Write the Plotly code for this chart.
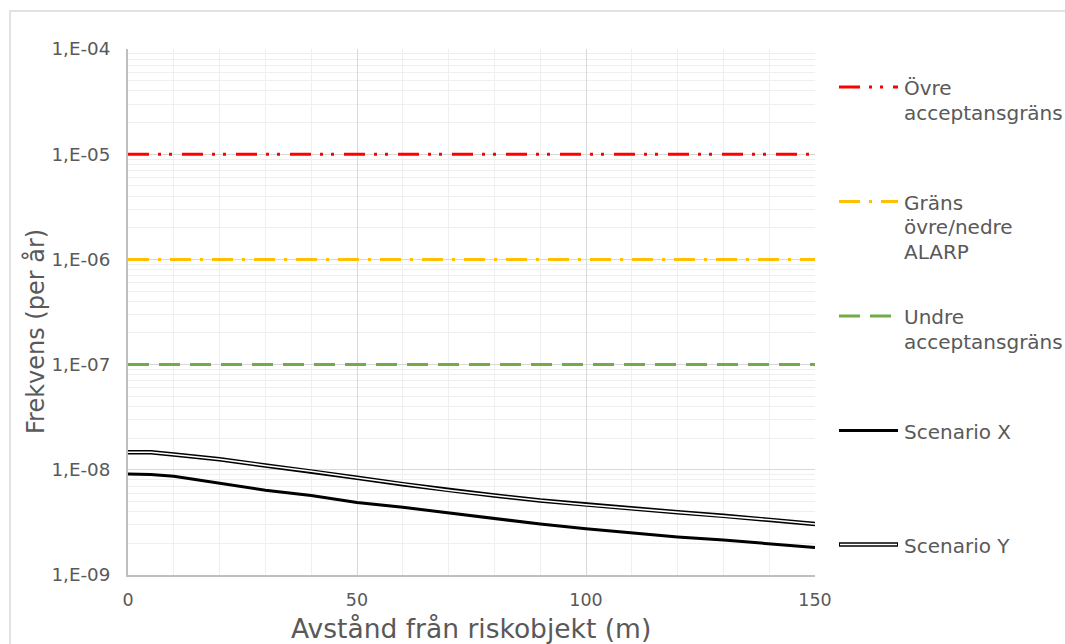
import plotly.graph_objects as go

# ---- data ----
distance = [0, 5, 10, 20, 30, 40, 50, 60, 70, 80, 90, 100, 110, 120, 130, 140, 150]
scenario_x = [9.1e-9, 9.0e-9, 8.7e-9, 7.5e-9, 6.4e-9, 5.7e-9, 4.9e-9, 4.4e-9, 3.9e-9,
              3.45e-9, 3.05e-9, 2.75e-9, 2.5e-9, 2.3e-9, 2.15e-9, 1.98e-9, 1.83e-9]
scenario_y = [1.47e-8, 1.47e-8, 1.40e-8, 1.26e-8, 1.10e-8, 9.7e-9, 8.4e-9, 7.3e-9, 6.4e-9,
              5.7e-9, 5.1e-9, 4.65e-9, 4.3e-9, 3.95e-9, 3.65e-9, 3.35e-9, 3.05e-9]
limit_x = [0, 150]
ovre_limit = [1e-5, 1e-5]
alarp_limit = [1e-6, 1e-6]
undre_limit = [1e-7, 1e-7]

y_tickvals = [1e-9, 1e-8, 1e-7, 1e-6, 1e-5, 1e-4]
y_ticktext = ["1,E-09", "1,E-08", "1,E-07", "1,E-06", "1,E-05", "1,E-04"]
x_tickvals = [0, 50, 100, 150]

legend_names = [["Övre", "acceptansgräns"], ["Gräns", "övre/nedre", "ALARP"],
                ["Undre", "acceptansgräns"], ["Scenario X"], ["Scenario Y"]]

# ---- style ----
W, H = 1065, 644
L, R, T, B = 128, 815, 49, 575
FONT = "DejaVu Sans"
TXT = "#595959"
RED, YEL, GRN = "#FF0000", "#FFC000", "#70AD47"
DASH_RED = "21px,9px,3px,8px,3px,10px"
DASH_YEL = "21px,9px,3px,9px"
DASH_GRN = "21px,10px"


def px(xp):
    return (xp - L) / (R - L)


def py(yp):
    return (B - yp) / (B - T)


fig = go.Figure()
fig.add_trace(go.Scatter(x=limit_x, y=ovre_limit, mode="lines",
                         line=dict(color=RED, width=3, dash=DASH_RED), showlegend=False))
fig.add_trace(go.Scatter(x=limit_x, y=alarp_limit, mode="lines",
                         line=dict(color=YEL, width=3, dash=DASH_YEL), showlegend=False))
fig.add_trace(go.Scatter(x=limit_x, y=undre_limit, mode="lines",
                         line=dict(color=GRN, width=3, dash=DASH_GRN), showlegend=False))
fig.add_trace(go.Scatter(x=distance, y=scenario_x, mode="lines",
                         line=dict(color="black", width=3), showlegend=False))
fig.add_trace(go.Scatter(x=distance, y=scenario_y, mode="lines",
                         line=dict(color="black", width=4.5), showlegend=False))
fig.add_trace(go.Scatter(x=distance, y=scenario_y, mode="lines",
                         line=dict(color="white", width=1.6), showlegend=False))

minor_y = [m * 10.0 ** e for e in range(-9, -4) for m in range(2, 10)]

fig.update_xaxes(range=[0, 150], tickvals=x_tickvals, ticktext=[str(v) for v in x_tickvals],
                 showgrid=True, gridcolor="#d9d9d9", gridwidth=1,
                 minor=dict(dtick=10, showgrid=True, gridcolor="#efefef", gridwidth=1),
                 showline=True, linecolor="#bfbfbf", linewidth=2,
                 tickfont=dict(family=FONT, size=17.5, color=TXT),
                 ticks="", ticklabelstandoff=8, zeroline=False)
fig.update_yaxes(type="log", range=[-9, -4], tickvals=y_tickvals, ticktext=y_ticktext,
                 showgrid=True, gridcolor="#d9d9d9", gridwidth=1,
                 minor=dict(tickvals=minor_y, showgrid=True, gridcolor="#efefef", gridwidth=1),
                 showline=True, linecolor="#bfbfbf", linewidth=2,
                 tickfont=dict(family=FONT, size=18.3, color=TXT),
                 ticks="", ticklabelstandoff=12, zeroline=False)

shapes = [dict(type="rect", xref="paper", yref="paper", x0=px(10), x1=px(1080),
               y0=py(11), y1=py(660), line=dict(color="#d9d9d9", width=1.5), layer="below")]

annotations = [
    dict(text="Frekvens (per år)", xref="paper", yref="paper", x=px(35), y=py(332),
         textangle=-90, showarrow=False, xanchor="center", yanchor="middle",
         font=dict(family=FONT, size=24, color=TXT)),
    dict(text="Avstånd från riskobjekt (m)", xref="paper", yref="paper", x=px(471), y=py(628),
         showarrow=False, xanchor="center", yanchor="middle",
         font=dict(family=FONT, size=26.5, color=TXT)),
]

# manual legend
sym_y = [87, 201.5, 316, 430.5, 544.5]
sym_style = [(RED, 3, DASH_RED), (YEL, 3, DASH_YEL), (GRN, 3, DASH_GRN),
             ("black", 3, "solid"), ("black", 4.5, "solid")]
for yy, (col, wd, ds) in zip(sym_y, sym_style):
    shapes.append(dict(type="line", xref="paper", yref="paper", x0=px(839), x1=px(898),
                       y0=py(yy), y1=py(yy), line=dict(color=col, width=wd, dash=ds)))
shapes.append(dict(type="line", xref="paper", yref="paper", x0=px(840), x1=px(897),
                   y0=py(sym_y[4]), y1=py(sym_y[4]), line=dict(color="white", width=1.6)))

for yy, lines in zip(sym_y, legend_names):
    for i, t in enumerate(lines):
        annotations.append(dict(text=t, xref="paper", yref="paper", x=px(902), y=py(yy + 1 + 24.5 * i),
                                showarrow=False, xanchor="left", yanchor="middle",
                                font=dict(family=FONT, size=20, color=TXT)))

fig.update_layout(width=W, height=H, margin=dict(l=L, r=W - R, t=T, b=H - B),
                  paper_bgcolor="white", plot_bgcolor="white", showlegend=False,
                  shapes=shapes, annotations=annotations, hovermode=False)

fig.write_html("out.html")
